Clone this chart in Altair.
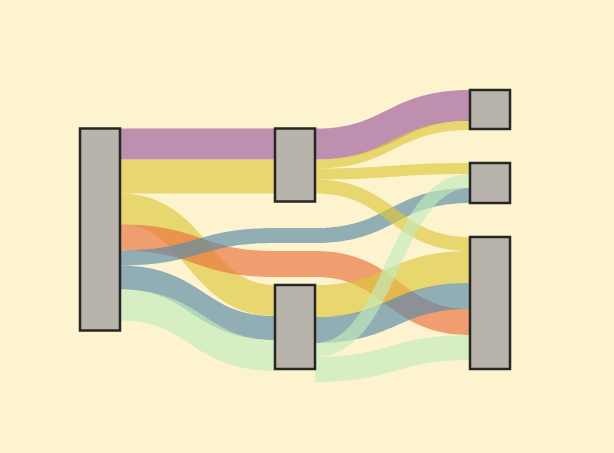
import altair as alt
import numpy as np
import pandas as pd

# ---------------- data ----------------
node_names = ["A", "B", "C", "D", "E", "F"]
node_column = [0, 1, 1, 2, 2, 2]
node_value = [202, 73, 84, 39, 40, 132]

link_source = ["A", "A", "A", "A", "A", "A", "A", "B", "B", "B", "B", "C", "C", "C", "C"]
link_target = ["B", "B", "C", "F", "E", "C", "C", "D", "D", "E", "F", "F", "F", "E", "F"]
link_value = [31, 34, 31, 26, 15, 24, 31, 31, 9, 11, 14, 32, 26, 14, 25]
link_color = ["purple", "yellow", "yellow", "orange", "blue", "blue", "green",
              "purple", "yellow", "yellow", "yellow", "yellow", "blue", "green", "green"]
# rank of each link among the links arriving at its target (top to bottom)
link_arrival = [0, 1, 0, 3, 2, 1, 2, 0, 1, 0, 0, 1, 2, 1, 4]
# vertical order inside each column (integers = links passing through the column)
column_order = [["A"], ["B", 4, 3, "C"], ["D", "E", "F"]]

palette_names = ["purple", "yellow", "orange", "blue", "green"]
palette_colors = ["#9d599c", "#ddc63a", "#e9703d", "#5889a7", "#c2ebbc"]
BG = "#fdf3cf"

# ---------------- layout (simple layered sankey) ----------------
NODE_W = 40
COL_STEP = 195
PAD = 34
PAD_PASS = 8

col_of = dict(zip(node_names, node_column))
val_of = dict(zip(node_names, node_value))


def item_h(it):
    return val_of[it] if isinstance(it, str) else link_value[it]


def pad_between(a, b):
    return PAD if (isinstance(a, str) and isinstance(b, str)) else PAD_PASS


def col_total(col):
    t = sum(item_h(it) for it in col)
    t += sum(pad_between(col[k], col[k + 1]) for k in range(len(col) - 1))
    return t


H = max(col_total(c) for c in column_order)

out_off, in_off = {}, {}
for n in node_names:
    acc = 0
    for i, s in enumerate(link_source):
        if s == n:
            out_off[i] = acc
            acc += link_value[i]
    acc = 0
    for i in sorted([i for i, t in enumerate(link_target) if t == n], key=lambda i: link_arrival[i]):
        in_off[i] = acc
        acc += link_value[i]

pos = {}


def key(it):
    return ("n", it) if isinstance(it, str) else ("l", it)


def resolve(col, ideal):
    ys = [ideal[k] for k in range(len(col))]
    y = 0
    for k, it in enumerate(col):
        if k > 0:
            y += pad_between(col[k - 1], it)
        ys[k] = max(ys[k], y)
        y = ys[k] + item_h(it)
    y = H
    for k in range(len(col) - 1, -1, -1):
        it = col[k]
        if k < len(col) - 1:
            y -= pad_between(it, col[k + 1])
        if ys[k] + item_h(it) > y:
            ys[k] = y - item_h(it)
        y = ys[k]
    return ys


def upstream_top(i, c):
    """top edge of link i in column c-1"""
    s = link_source[i]
    if col_of[s] == c - 1:
        return pos[("n", s)] + out_off[i]
    return pos[("l", i)]


# first column centred
y = (H - col_total(column_order[0])) / 2
for k, it in enumerate(column_order[0]):
    if k > 0:
        y += pad_between(column_order[0][k - 1], it)
    pos[key(it)] = y
    y += item_h(it)

for c in range(1, len(column_order)):
    col = column_order[c]
    ideal = []
    for it in col:
        if isinstance(it, str):
            num = den = 0.0
            for i, t in enumerate(link_target):
                if t == it:
                    num += (upstream_top(i, c) - in_off[i]) * link_value[i]
                    den += link_value[i]
            ideal.append(num / den)
        else:
            ideal.append(upstream_top(it, c))
    ys = resolve(col, ideal)
    for it, yv in zip(col, ys):
        pos[key(it)] = yv

# ---------------- geometry tables ----------------
node_rows = []
for n in node_names:
    x0 = col_of[n] * COL_STEP
    node_rows.append(dict(node=n, x0=x0, x1=x0 + NODE_W,
                          y0=pos[("n", n)], y1=pos[("n", n)] + val_of[n]))
ndf = pd.DataFrame(node_rows)

t = np.linspace(0, 1, 40)
link_rows = []
for i in range(len(link_value)):
    s, tg = link_source[i], link_target[i]
    sc, tc = col_of[s], col_of[tg]
    half = link_value[i] / 2
    stations = [(None, sc * COL_STEP + NODE_W, pos[("n", s)] + out_off[i] + half)]
    for c in range(sc + 1, tc):
        stations.append((c * COL_STEP, c * COL_STEP + NODE_W, pos[("l", i)] + half))
    stations.append((tc * COL_STEP, None, pos[("n", tg)] + in_off[i] + half))
    pts = []
    for a, b in zip(stations[:-1], stations[1:]):
        xa, ya = a[1], a[2]
        xb, yb = b[0], b[2]
        xm = (xa + xb) / 2
        bx = (1 - t) ** 3 * xa + 3 * (1 - t) ** 2 * t * xm + 3 * (1 - t) * t ** 2 * xm + t ** 3 * xb
        by = (1 - t) ** 3 * ya + 3 * (1 - t) ** 2 * t * ya + 3 * (1 - t) * t ** 2 * yb + t ** 3 * yb
        pts.extend(zip(bx, by))
        if b[1] is not None:
            pts.append((b[1], yb))
    for k, (px, py) in enumerate(pts):
        link_rows.append(dict(link=f"L{i:02d}", i=k, x=px, y=py,
                              w=link_value[i], color=link_color[i]))
ldf = pd.DataFrame(link_rows)

XMAX = (len(column_order) - 1) * COL_STEP + NODE_W
xs = alt.Scale(domain=[0, XMAX])
ys_ = alt.Scale(domain=[0, H], reverse=True)

links = alt.Chart(ldf).mark_line(opacity=0.65, strokeCap="butt", strokeJoin="round").encode(
    x=alt.X("x:Q", scale=xs, axis=None),
    y=alt.Y("y:Q", scale=ys_, axis=None),
    detail="link:N",
    order="i:Q",
    color=alt.Color("color:N", scale=alt.Scale(domain=palette_names, range=palette_colors), legend=None),
    strokeWidth=alt.StrokeWidth("w:Q", scale=None),
)

nodes = alt.Chart(ndf).mark_rect(fill="#b8b4ac", stroke="#262626", strokeWidth=2.5).encode(
    x=alt.X("x0:Q", scale=xs, axis=None),
    x2="x1:Q",
    y=alt.Y("y0:Q", scale=ys_, axis=None),
    y2="y1:Q",
)

chart = alt.layer(links, nodes).properties(
    width=XMAX, height=H,
    autosize="none",
    padding={"left": 72, "top": 82, "right": 598 - 72 - XMAX, "bottom": 437 - 82 - H},
    background=BG,
).configure_view(stroke=None)

chart.save("out.html", embed_options={"renderer": "svg", "actions": False,
                                      "defaultStyle": "body{background:" + BG + ";}"})
